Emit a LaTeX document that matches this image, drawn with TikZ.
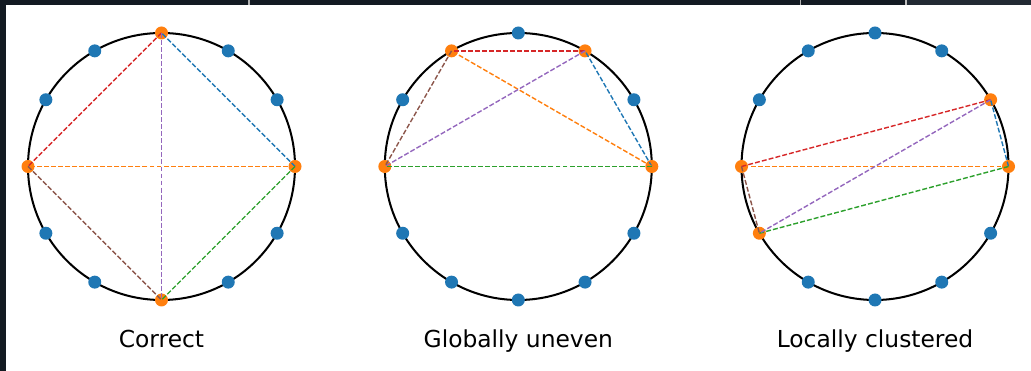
\documentclass[tikz,border=0pt]{standalone}
\usepackage{fontspec}
\setmainfont{DejaVu Sans}
\usetikzlibrary{calc}
\definecolor{tabblue}{HTML}{1F77B4}
\definecolor{taborange}{HTML}{FF7F0E}
\definecolor{tabgreen}{HTML}{2CA02C}
\definecolor{tabred}{HTML}{D62728}
\definecolor{tabpurple}{HTML}{9467BD}
\definecolor{tabbrown}{HTML}{8C564B}
\definecolor{framedark}{HTML}{131A22}
\definecolor{framegrey}{HTML}{222A33}
\tikzset{
  ring/.style={line width=1.15pt, black},
  bdot/.style={circle, fill=tabblue, inner sep=0pt, minimum size=0.26cm},
  odot/.style={circle, fill=taborange, inner sep=0pt, minimum size=0.26cm},
  chord/.style={line width=0.8pt, line cap=butt, dash pattern=on 2.8pt off 1.2pt},
  caption/.style={font=\fontsize{13.3}{16}\selectfont, anchor=base, inner sep=0pt}
}
\def\R{133.5}
\begin{document}
\begin{tikzpicture}[x=0.02cm, y=0.02cm, line join=round]
\useasboundingbox (0,0) rectangle (1031,371);
% screenshot frame
\fill[framedark] (0,366) rectangle (1031,371);
\fill[framegrey] (906,366) rectangle (1031,371);
\fill[framedark] (0,0) rectangle (6,371);
\fill[gray!60] (247.5,366) rectangle (249.5,371);
\fill[gray!60] (799.5,366) rectangle (801,371);
\fill[gray!50] (905,366) rectangle (906.5,371);
\coordinate (OA) at (161.5,204.5);
\coordinate (OB) at (518.3,204.5);
\coordinate (OC) at (875.0,204.5);
% correct
\draw[ring] (OA) circle (\R);
\foreach \a in {30,60,120,150,210,240,300,330}
  \node[bdot] (dA\a) at ($(OA)+(\a:\R)$) {};
\coordinate (A0) at ($(OA)+(0:\R)$);
\coordinate (A90) at ($(OA)+(90:\R)$);
\coordinate (A180) at ($(OA)+(180:\R)$);
\coordinate (A270) at ($(OA)+(270:\R)$);
\node[odot] (oA0) at (A0) {};
\node[odot] (oA90) at (A90) {};
\node[odot] (oA180) at (A180) {};
\node[odot] (oA270) at (A270) {};
\draw[chord, tabblue] (A0) -- (A90);
\draw[chord, taborange] (A0) -- (A180);
\draw[chord, tabgreen] (A0) -- (A270);
\draw[chord, tabred] (A90) -- (A180);
\draw[chord, tabpurple] (A90) -- (A270);
\draw[chord, tabbrown] (A180) -- (A270);
\node[caption] (capA) at (161.5,23) {Correct};
% globally uneven
\draw[ring] (OB) circle (\R);
\foreach \a in {30,90,150,210,240,270,300,330}
  \node[bdot] (dB\a) at ($(OB)+(\a:\R)$) {};
\coordinate (B0) at ($(OB)+(0:\R)$);
\coordinate (B60) at ($(OB)+(60:\R)$);
\coordinate (B120) at ($(OB)+(120:\R)$);
\coordinate (B180) at ($(OB)+(180:\R)$);
\node[odot] (oB0) at (B0) {};
\node[odot] (oB60) at (B60) {};
\node[odot] (oB120) at (B120) {};
\node[odot] (oB180) at (B180) {};
\draw[chord, tabblue] (B0) -- (B60);
\draw[chord, taborange] (B0) -- (B120);
\draw[chord, tabgreen] (B0) -- (B180);
\draw[chord, tabred] (B60) -- (B120);
\draw[chord, tabpurple] (B60) -- (B180);
\draw[chord, tabbrown] (B120) -- (B180);
\node[caption] (capB) at (518.3,23) {Globally uneven};
% locally clustered
\draw[ring] (OC) circle (\R);
\foreach \a in {60,90,120,150,240,270,300,330}
  \node[bdot] (dC\a) at ($(OC)+(\a:\R)$) {};
\coordinate (C0) at ($(OC)+(0:\R)$);
\coordinate (C30) at ($(OC)+(30:\R)$);
\coordinate (C180) at ($(OC)+(180:\R)$);
\coordinate (C210) at ($(OC)+(210:\R)$);
\node[odot] (oC0) at (C0) {};
\node[odot] (oC30) at (C30) {};
\node[odot] (oC180) at (C180) {};
\node[odot] (oC210) at (C210) {};
\draw[chord, tabblue] (C0) -- (C30);
\draw[chord, taborange] (C0) -- (C180);
\draw[chord, tabgreen] (C0) -- (C210);
\draw[chord, tabred] (C30) -- (C180);
\draw[chord, tabpurple] (C30) -- (C210);
\draw[chord, tabbrown] (C180) -- (C210);
\node[caption] (capC) at (875.0,23) {Locally clustered};
\end{tikzpicture}
\end{document}
